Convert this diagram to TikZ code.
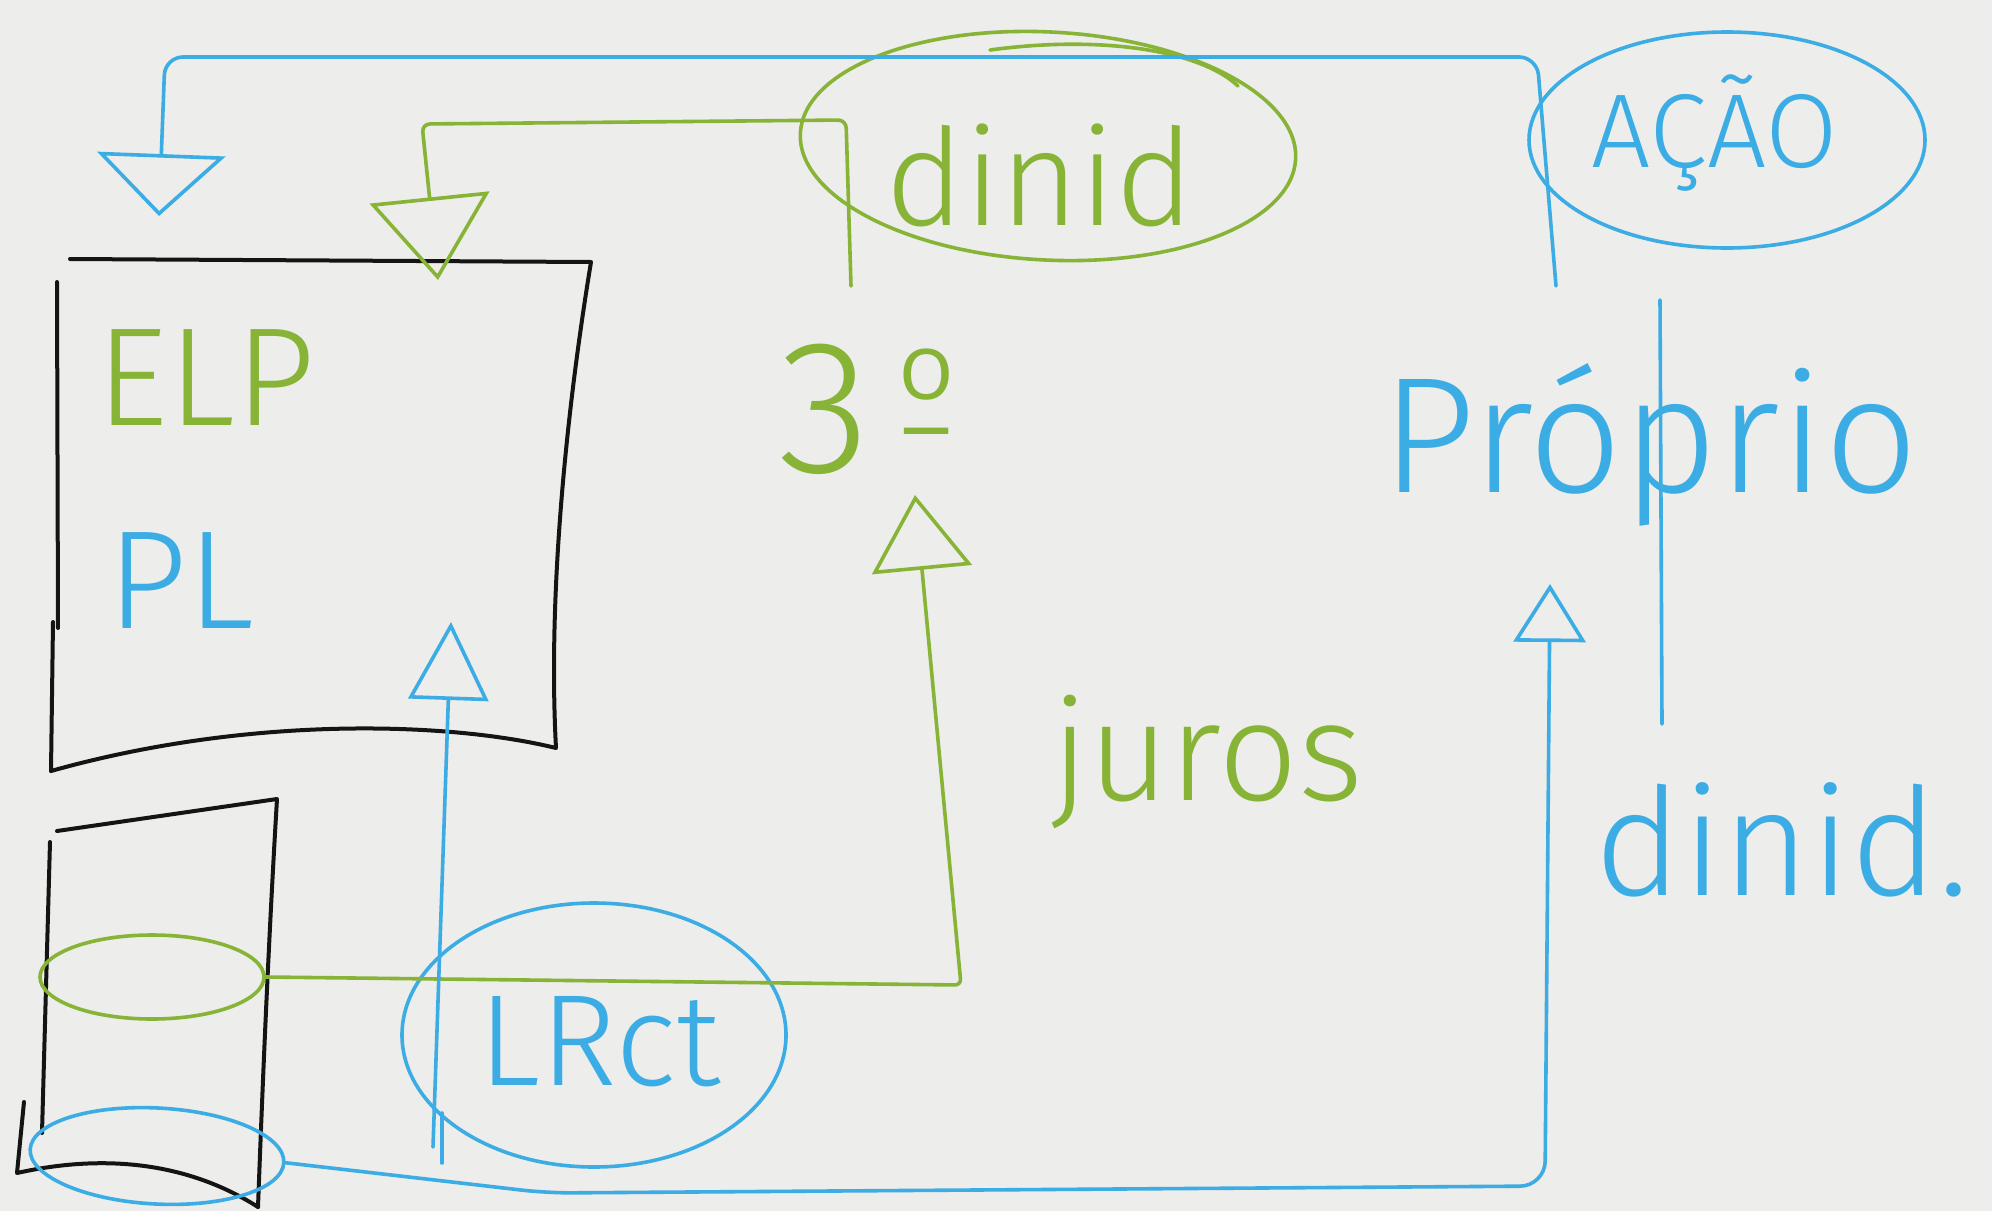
\documentclass[tikz,border=0pt]{standalone}
\usepackage{fontspec}
\setmainfont{Fira Sans Light}
\usetikzlibrary{arrows.meta,shapes.geometric}
\definecolor{pblue}{RGB}{60,172,228}
\definecolor{pgreen}{RGB}{135,180,55}
\definecolor{paper}{RGB}{237,237,235}
\definecolor{ink}{RGB}{20,20,20}
\begin{document}
\begin{tikzpicture}[x=1pt,y=-1pt,
  bline/.style={draw=pblue,line width=3.6pt,line cap=round,line join=round},
  gline/.style={draw=pgreen,line width=3.6pt,line cap=round,line join=round},
  kline/.style={draw=ink,line width=4pt,line cap=round,line join=round},
  btext/.style={text=pblue,inner sep=0pt},
  gtext/.style={text=pgreen,inner sep=0pt},
  ring/.style={ellipse,inner sep=0pt,line width=3.6pt}]
\fill[paper] (0,0) rectangle (1992,1211);
\useasboundingbox (0,0) rectangle (1992,1211);

% big box
\draw[kline] (70,259) -- (591,262) .. controls (565,420) and (548,600) .. (556,748)
  .. controls (450,722) and (250,715) .. (51,771);
\draw[kline] (57,282) -- (58,628);
\draw[kline] (53,622) -- (51,771);
% small box
\draw[kline] (57,831) -- (277,799) .. controls (268,950) and (262,1100) .. (258,1207);
\draw[kline] (50,842) -- (42,1133);
\draw[kline] (24,1102) -- (17,1173) .. controls (120,1150) and (200,1170) .. (258,1207);

% texts
\node[gtext,font=\fontsize{140}{140}\selectfont] (elp) at (206,378) {ELP};
\node[btext,font=\fontsize{140}{140}\selectfont] (pl) at (181,581) {PL};
\node[gtext,font=\fontsize{135}{135}\selectfont] (dinidg) at (1040,175) {dinid};
\node[gtext,font=\fontsize{190}{190}\selectfont,anchor=base west] (three) at (778,472) {3\hspace{25pt}\raisebox{38pt}{\fontsize{125}{125}\selectfont º}};
\node[gtext,font=\fontsize{140}{140}\selectfont] (juros) at (1207,762) {juros};
\node[btext,font=\fontsize{105}{105}\selectfont] (acao) at (1715,133) {AÇÃO};
\node[btext,font=\fontsize{165}{165}\selectfont] (proprio) at (1650,445) {Próprio};
\node[btext,font=\fontsize{150}{150}\selectfont] (dinidb) at (1782,840) {dinid.};
\node[btext,font=\fontsize{130}{130}\selectfont] (lrct) at (600,1042) {LRct};

% ellipses
\node[ring,draw=pgreen,minimum width=496pt,minimum height=228pt,rotate=-3] (dinidell) at (1048,146) {};
\draw[gline] (990,50) .. controls (1100,35) and (1200,50) .. (1238,86);
\node[ring,draw=pblue,minimum width=396pt,minimum height=216pt] (acaoell) at (1727,140) {};
\node[ring,draw=pblue,minimum width=384pt,minimum height=264pt] (lrctell) at (594,1035) {};
\node[ring,draw=pgreen,minimum width=224pt,minimum height=84pt] (gsm) at (152,977) {};
\node[ring,draw=pblue,minimum width=254pt,minimum height=96pt,rotate=-3] (bsm) at (157,1156) {};

% connectors
\coordinate (pv) at (1556,286);
\coordinate (topR) at (1537,57);
\coordinate (topL) at (165,57);
\coordinate (tipL) at (159,216);
\draw[bline,rounded corners=18pt,-{Triangle[open,length=62pt,width=128pt]}] (pv) -- (topR) -- (topL) -- (tipL);

\coordinate (g3top) at (851,286);
\coordinate (gc1) at (846,120);
\coordinate (gc2) at (422,124);
\coordinate (tipE) at (438,280);
\draw[gline,rounded corners=8pt,-{Triangle[open,length=83pt,width=120pt]}] (g3top) -- (gc1) -- (gc2) -- (tipE);

\coordinate (gc3) at (961,985);
\coordinate (tip3) at (915,495);
\draw[gline,rounded corners=6pt,-{Triangle[open,length=75pt,width=100pt]}] (gsm.east) -- (gc3) -- (tip3);

\coordinate (bd) at (547,1193);
\coordinate (bc) at (1545,1186);
\coordinate (tipP) at (1550,584);
\draw[bline,rounded corners=25pt,-{Triangle[open,length=58pt,width=72pt]}] (bsm.east) -- (bd) -- (bc) -- (tipP);

\coordinate (lrb) at (433,1147);
\coordinate (tipB) at (451,622);
\draw[bline,-{Triangle[open,length=78pt,width=80pt]}] (lrb) -- (tipB);
\draw[bline] (442,1113) -- (442,1163);

\coordinate (pt) at (1660,300);
\coordinate (pb) at (1662,724);
\draw[bline] (pt) -- (pb);
\end{tikzpicture}
\end{document}
